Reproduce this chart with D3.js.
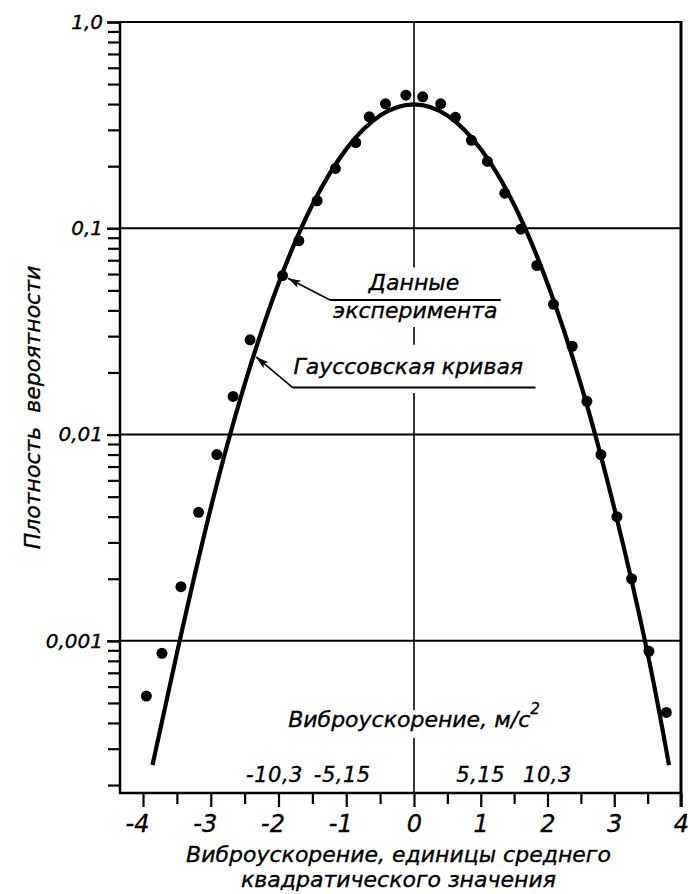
<!DOCTYPE html>
<html><head><meta charset="utf-8">
<script src="https://cdn.jsdelivr.net/npm/d3@7"></script>
<style>
html,body{margin:0;padding:0;background:#fff;}
svg text{font-family:"DejaVu Sans","Liberation Sans",sans-serif;font-style:italic;fill:#000;stroke:#000;stroke-width:0.35px;}
</style></head><body>
<svg id="chart" width="688" height="894"></svg>
<script>
// ---- data ----
const expX = [-3.95,-3.72,-3.44,-3.18,-2.91,-2.67,-2.42,-1.94,-1.70,-1.43,-1.16,-0.86,-0.66,-0.42,-0.12,
              0.13,0.40,0.62,0.86,1.10,1.36,1.60,1.84,2.09,2.37,2.59,2.80,3.04,3.26,3.52,3.78];
const expY = [0.00054,0.00087,0.00183,0.0042,0.0080,0.0153,0.0288,0.059,0.087,0.136,0.195,0.26,0.347,0.401,0.442,
              0.434,0.401,0.345,0.267,0.211,0.148,0.099,0.066,0.0428,0.0268,0.0145,0.0080,0.0040,0.0020,0.00089,0.00045];
const gaussX = [-3.86,-3.5,-3,-2.5,-2,-1.5,-1,-0.5,0,0.5,1,1.5,2,2.5,3,3.5,3.82];
const gaussY = [0.00025,0.00087,0.0044,0.0175,0.054,0.130,0.242,0.352,0.399,0.352,0.242,0.130,0.054,0.0175,0.0044,0.00087,0.00025];
const xTickValues = [-4,-3,-2,-1,0,1,2,3,4];
const xTickLabels = ["-4","-3","-2","-1","0","1","2","3","4"];
const xMinorTicks = [-3.5,-2.5,-1.5,-0.5,0.5,1.5,2.5,3.5];
const accelTickValues = [-2,-1,1,2];
const accelTickLabels = ["-10,3","-5,15","5,15","10,3"];
const yTickValues = [1,0.1,0.01,0.001];
const yTickLabels = ["1,0","0,1","0,01","0,001"];
const yTitle = "Плотность\u00a0\u00a0вероятности";
const xTitle = ["Виброускорение, единицы среднего","квадратического значения"];
const accelTitle = "Виброускорение, м/с";
const accelSup = "2";
const labelData = ["Данные","эксперимента"];
const labelGauss = "Гауссовская кривая";

// ---- layout ----
const L = 120, R = 681, T = 22, B = 793;
const svg = d3.select("#chart");
const x = d3.scaleLinear().domain([-4.34,-4,0,4]).range([L,143,414,R]);
const y = d3.scaleLog().domain([1.83e-4,1]).range([B,T]);

// defs: arrowhead
svg.append("defs").append("marker")
  .attr("id","arr").attr("markerUnits","userSpaceOnUse")
  .attr("markerWidth",14).attr("markerHeight",10)
  .attr("refX",13).attr("refY",4).attr("orient","auto")
  .append("path").attr("d","M0,0 L13,4 L0,8 L3,4 Z").attr("fill","#000");

// gridlines at decades
svg.append("g").selectAll("line").data(yTickValues.filter(v=>v<1)).join("line")
  .attr("x1",L).attr("x2",R).attr("y1",d=>y(d)).attr("y2",d=>y(d))
  .attr("stroke","#000").attr("stroke-width",2);

// frame
const frame = svg.append("g").attr("stroke","#000").attr("fill","none");
frame.append("line").attr("x1",L).attr("x2",R).attr("y1",T).attr("y2",T).attr("stroke-width",2);
frame.append("line").attr("x1",L).attr("x2",L).attr("y1",T-1).attr("y2",B+1).attr("stroke-width",2.5);
frame.append("line").attr("x1",L-1).attr("x2",R).attr("y1",B).attr("y2",B).attr("stroke-width",2.5);
frame.append("line").attr("x1",R).attr("x2",R).attr("y1",T-1).attr("y2",B+14).attr("stroke-width",3);

// y axis (minor ticks + labelled decades)
svg.append("g").attr("transform",`translate(${L},0)`)
  .call(d3.axisLeft(y).tickValues(y.ticks()).tickSize(12).tickFormat(""))
  .call(g=>g.select(".domain").remove())
  .call(g=>g.selectAll("line").attr("stroke-width",2.2));
svg.append("g").attr("transform",`translate(${L},0)`)
  .call(d3.axisLeft(y).tickValues(yTickValues).tickSize(13).tickPadding(4)
        .tickFormat((d,i)=>yTickLabels[i]))
  .call(g=>g.select(".domain").remove())
  .call(g=>g.selectAll("line").attr("stroke-width",2.2))
  .call(g=>g.selectAll("text").attr("font-size",20).attr("font-family",null));

// x axis
svg.append("g").attr("transform",`translate(0,${B})`)
  .call(d3.axisBottom(x).tickValues(xMinorTicks).tickSize(11).tickFormat(""))
  .call(g=>g.select(".domain").remove())
  .call(g=>g.selectAll("line").attr("stroke-width",2.2));
svg.append("g").attr("transform",`translate(0,${B})`)
  .call(d3.axisBottom(x).tickValues(xTickValues).tickSize(14).tickPadding(8)
        .tickFormat((d,i)=>xTickLabels[i]))
  .call(g=>g.select(".domain").remove())
  .call(g=>g.selectAll("line").attr("stroke-width",2.2))
  .call(g=>g.selectAll("text").attr("font-size",24).attr("font-family",null)
        .attr("dx",d=>d<0?-6:0));

// secondary (m/s^2) labels
svg.append("g").selectAll("text").data(accelTickValues).join("text")
  .attr("x",d=>x(d)).attr("y",782).attr("dx",d=>d<0?-4:0)
  .attr("text-anchor","middle").attr("font-size",21).attr("letter-spacing",0.5)
  .text((d,i)=>accelTickLabels[i]);

// accel title with superscript
const accelBase = 727;
const at = svg.append("text").attr("x",x(0)).attr("y",accelBase)
  .attr("text-anchor","middle").attr("font-size",22);
at.append("tspan").text(accelTitle);
at.append("tspan").attr("dy",-13).attr("font-size",15).text(accelSup);

// annotation: experimental data
const dBase1 = y(0.05), dBase2 = y(0.0367), dLineY = y(0.0449);
svg.append("text").attr("x",x(0)).attr("y",dBase1).attr("text-anchor","middle").attr("font-size",22).text(labelData[0]);
svg.append("text").attr("x",x(0.02)).attr("y",dBase2).attr("text-anchor","middle").attr("font-size",22).text(labelData[1]);
svg.append("line").attr("x1",x(-1.24)).attr("x2",x(1.30)).attr("y1",dLineY).attr("y2",dLineY)
  .attr("stroke","#000").attr("stroke-width",2);
{
  const px = x(expX[7]), py = y(expY[7]);
  const sx = x(-1.24), sy = dLineY;
  const len = Math.hypot(px-sx, py-sy), k = (len-6)/len;
  svg.append("line").attr("x1",sx).attr("y1",sy).attr("x2",sx+(px-sx)*k).attr("y2",sy+(py-sy)*k)
    .attr("stroke","#000").attr("stroke-width",1.6).attr("marker-end","url(#arr)");
}

// annotation: gaussian curve
const gBase = y(0.0197), gLineY = y(0.0169);
svg.append("text").attr("x",x(-1.78)).attr("y",gBase).attr("font-size",22).text(labelGauss);
svg.append("line").attr("x1",x(-1.79)).attr("x2",x(1.82)).attr("y1",gLineY).attr("y2",gLineY)
  .attr("stroke","#000").attr("stroke-width",2);
svg.append("line").attr("x1",x(-1.79)).attr("y1",gLineY).attr("x2",x(-2.33)).attr("y2",y(0.0238))
  .attr("stroke","#000").attr("stroke-width",1.6).attr("marker-end","url(#arr)");

// zero vertical line with gaps around the texts
const gaps = [[dBase1-23, dBase2+9],[gBase-29, gLineY+5.5],[accelBase-17, accelBase+11]];
let segs = [], cur = T;
gaps.forEach(g=>{segs.push([cur,g[0]]); cur = g[1];});
segs.push([cur,B]);
svg.append("g").selectAll("line").data(segs).join("line")
  .attr("x1",x(0)).attr("x2",x(0)).attr("y1",d=>d[0]).attr("y2",d=>d[1])
  .attr("stroke","#000").attr("stroke-width",1.6);

// gaussian curve
svg.append("path").datum(d3.range(gaussX.length))
  .attr("d",d3.line().x(i=>x(gaussX[i])).y(i=>y(gaussY[i])).curve(d3.curveNatural))
  .attr("fill","none").attr("stroke","#000").attr("stroke-width",4.2);

// experimental dots
svg.append("g").selectAll("circle").data(d3.range(expX.length)).join("circle")
  .attr("cx",i=>x(expX[i])).attr("cy",i=>y(expY[i])).attr("r",5.5).attr("fill","#000");

// titles
svg.append("text").attr("transform",`translate(40,${(T+B)/2+0})rotate(-90)`)
  .attr("text-anchor","middle").attr("font-size",22).text(yTitle);
svg.append("g").selectAll("text").data(xTitle).join("text")
  .attr("x",(L+R)/2-2).attr("y",(d,i)=>862+i*24.5)
  .attr("text-anchor","middle").attr("font-size",22).text(d=>d);
</script>
</body></html>
